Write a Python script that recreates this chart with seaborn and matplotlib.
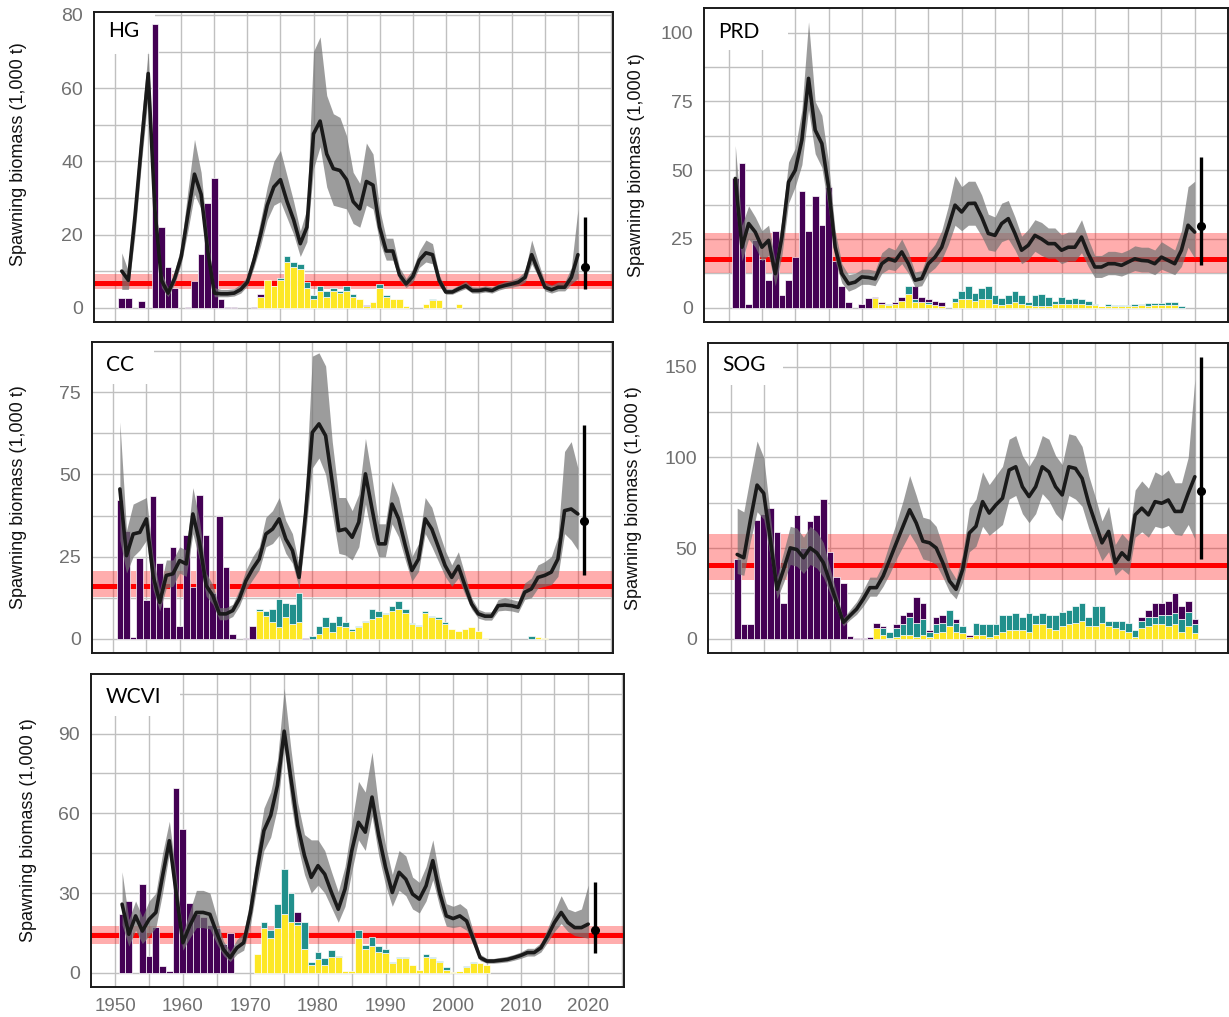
import numpy as np
import seaborn as sns
import matplotlib.pyplot as plt
from matplotlib.patches import Rectangle

years = np.arange(1951, 2021)
proj_year = 2021

# --- HG ---
hg_sb = [10, 7.5, 25, 45, 64, 27, 7.5, 4, 8, 14,
         25.5, 36.5, 31, 15.5, 4, 3.8, 3.8, 4, 5, 7,
         13, 20, 28, 33, 35, 29, 24, 17.5, 22, 47.5,
         51, 42, 38, 37.5, 35, 29, 27, 34.5, 33.5, 22,
         15.5, 15.5, 9, 6.5, 8.5, 13, 15, 14.5, 7.5, 4.3,
         4.3, 5.2, 6, 4.7, 4.7, 5, 4.7, 5.6, 6.1, 6.5,
         7, 8.3, 14.5, 10, 5.6, 4.9, 5.6, 5.6, 8.3, 14.5]
hg_lo = [5, 5, 20, 40, 58, 22, 5.5, 3, 6.5, 12,
         21, 31, 27, 13, 3, 3, 3, 3.2, 4, 6,
         11, 17, 24, 28, 29, 24.5, 20, 14, 18, 38,
         44, 33, 28, 27.5, 27, 23, 22, 28, 27, 18,
         13, 13, 7.5, 5.5, 7, 11, 12.5, 12, 6, 3.7,
         3.7, 4.5, 5.2, 4, 4, 4.3, 4, 4.8, 5.3, 5.6,
         6, 7, 12, 8.5, 4.6, 4, 4.6, 4.6, 6.5, 8]
hg_hi = [15, 10, 30, 52, 70, 32, 9.5, 5.5, 10, 17,
         32, 46, 37, 19, 5.5, 5, 5, 5.2, 6.5, 8.5,
         15.5, 24, 33, 40, 43, 36, 29, 21, 27, 70,
         74, 58, 53, 52, 47, 37, 34, 45, 42, 27,
         19, 19, 11, 8, 10.5, 15.5, 18.5, 17.5, 9, 5.2,
         5.2, 6.2, 7.2, 5.7, 5.6, 6, 5.7, 6.6, 7.2, 7.6,
         8.3, 10, 18.5, 12.5, 7, 6.2, 7, 7, 11, 27]
hg_purple = [2.6, 2.6, 0, 1.8, 0, 77.5, 22, 11, 5.5, 0,
             0.3, 7.3, 14.7, 28.7, 35.5, 2.4, 0.3, 0.3, 0, 0,
             0.3, 0.8, 0, 0, 0, 0, 0, 0, 0, 0,
             0, 0, 0, 0, 0, 0, 0, 0.3, 0, 0,
             0, 0, 0, 0, 0, 0, 0, 0, 0, 0,
             0, 0, 0, 0, 0, 0, 0, 0, 0, 0,
             0, 0, 0, 0, 0, 0, 0, 0, 0, 0]
hg_teal = [0, 0, 0, 0, 0, 0, 0, 0, 0, 0,
           0, 0, 0, 0, 0, 0, 0, 0, 0, 0,
           0, 0, 0, 0, 0.5, 1.5, 1.5, 1.5, 1.5, 1,
           1.5, 1.5, 0.8, 0.5, 1.3, 0.7, 0, 0, 0, 1,
           0.5, 0, 0, 0, 0, 0, 0, 0.5, 0, 0,
           0, 0, 0, 0, 0, 0, 0, 0, 0, 0,
           0, 0, 0, 0, 0, 0, 0, 0, 0, 0]
hg_yellow = [0, 0, 0, 0, 0, 0, 0, 0, 0, 0,
             0, 0, 0, 0, 0, 0, 0, 0, 0, 0,
             0, 3, 7.5, 6, 7.5, 12.5, 11, 10.5, 5.5, 2.5,
             4.5, 3, 4.5, 4, 4.5, 3, 2.5, 0.5, 1.5, 5.5,
             3, 2.5, 2.5, 0.5, 0, 0, 1, 2, 2, 0,
             0, 1, 0, 0, 0, 0, 0, 0, 0, 0,
             0, 0, 0, 0, 0, 0, 0, 0, 0, 0]
hg_lrp = [6.7, 5.0, 9.3]
hg_proj = [11.1, 5.2, 24.8]

# --- PRD ---
prd_sb = [47, 22, 30.6, 27.5, 22, 24.5, 12.4, 25.7, 45.7, 50,
          61, 83.4, 64.6, 59.7, 44, 22, 12.4, 8.7, 9.3, 11.2,
          11, 10.5, 16, 17.8, 17, 20.3, 16, 10, 10.6, 16,
          18.4, 22, 29.4, 37.3, 34.8, 37.9, 38, 33, 27, 26.3,
          30.6, 32.4, 27, 20.9, 22.7, 26.3, 25, 23.3, 23.3, 20.9,
          22, 22, 25.7, 19.7, 14.8, 14.8, 16, 16, 15.4, 16.6,
          17.8, 17.2, 17, 16, 18.4, 17.2, 16, 20.9, 30, 27.5]
prd_lo = [38, 17, 25, 22, 17, 19, 8, 19, 38, 44,
          52, 72, 56, 51, 36, 17, 9, 6, 7, 8.5,
          8.5, 8, 12.5, 14, 13.5, 16, 12.5, 7.5, 8, 12.5,
          14.5, 17.5, 23, 30, 28, 30, 30, 26, 21, 20.5,
          24, 25, 21, 16, 17.5, 20.5, 19, 18, 18, 16,
          17, 17, 20, 15, 11, 11, 12, 12, 11.5, 12.5,
          13.5, 13, 13, 12, 14, 13, 12, 15, 22, 18]
prd_hi = [59, 30, 37, 33, 28, 30, 17, 32, 53, 58,
          72, 104, 75, 70, 53, 28, 16, 12, 12.5, 14,
          14, 13.5, 20, 22, 21, 25, 20, 13, 13.5, 20,
          23, 28, 37, 48, 44, 46, 46, 41, 34, 33,
          38, 39, 33, 26, 28.5, 32, 31, 29, 29, 26.5,
          27.5, 27.5, 32, 25, 19, 19, 20.5, 20.5, 20, 21,
          22.5, 22, 22, 21, 24, 22.5, 21, 28, 44, 46]
prd_purple = [47, 52.5, 1.5, 24.5, 17.8, 10, 28, 4.5, 10, 18.5,
              42.5, 28, 40.5, 30, 44, 17, 8, 2, 0, 1.5,
              3.5, 0.5, 0.4, 0, 0.5, 1.5, 0, 5, 2, 1,
              1.5, 1.5, 0, 0, 0, 0, 0, 0, 0, 0,
              0, 0, 0, 0, 0, 0, 0, 0, 0, 0,
              0, 0, 0, 0, 0, 0, 0, 0, 0, 0,
              0, 0, 0, 0, 0, 0, 0, 0, 0, 0]
prd_teal = [0, 0, 0, 0, 0, 0, 0, 0, 0, 0,
            0, 0, 0, 0, 0, 0, 0, 0, 0, 0,
            0, 0, 0, 0.5, 0, 0, 3, 1, 0, 0.5,
            0, 0, 0, 1.5, 3, 5, 3, 4, 5, 3,
            2.5, 3, 4, 3, 1, 4, 4.5, 3.5, 1, 2.5,
            1.5, 2, 1.5, 1.5, 0.5, 0.3, 0.8, 0.5, 0.5, 0.5,
            0.5, 0.5, 0.8, 0.8, 0.8, 1, 1.2, 0.7, 0, 0]
prd_yellow = [0, 0, 0, 0, 0, 0, 0, 0, 0, 0,
              0, 0, 0, 0, 0, 0, 0, 0, 0, 0,
              0, 3.5, 1.5, 1, 1.5, 2.5, 5, 2, 2, 1.5,
              1, 0.5, 0, 2, 3, 3, 2.5, 3, 3, 1.5,
              1, 1.5, 2, 1.5, 1, 0.5, 0.5, 0.5, 1.5, 1.5,
              1.5, 1.5, 1.5, 1, 1, 0.5, 0.5, 0.5, 0.5, 0.5,
              0.8, 1, 0.8, 1, 1, 1, 1, 0, 0, 0]
prd_lrp = [17.6, 12.6, 27.2]
prd_proj = [29.6, 15.4, 54.9]

# --- CC ---
cc_sb = [45.6, 25.3, 31.9, 32.4, 36.5, 19.3, 11.1, 19.3, 19.8, 23.8,
         22.8, 38, 29.4, 16.2, 13.2, 7.6, 7.6, 8.6, 12.2, 17.7,
         21.3, 24.3, 31.9, 33.4, 36.5, 30.4, 26.9, 18.7, 38.5, 62.8,
         65.4, 61.8, 47.6, 32.9, 33.4, 30.9, 35.5, 50.2, 39.5, 28.9,
         28.9, 41, 36.5, 28.4, 20.8, 24.3, 36.5, 33.4, 27.9, 22.3,
         18.7, 22.1, 16.2, 10.6, 7.6, 6.9, 6.9, 10.1, 10.3, 10.1,
         9.6, 14.2, 15.2, 18.7, 19.3, 20.3, 24.3, 39, 39.5, 38]
cc_lo = [30, 20, 25, 27, 30, 15, 8.5, 15.5, 16, 20,
         19, 32, 24, 13, 10.5, 5.8, 5.8, 6.8, 10, 15,
         18, 21, 28, 29, 31.5, 26, 23, 15.5, 32, 52,
         55, 50, 38, 26, 25.5, 24, 28, 41, 31, 25,
         25, 35, 31, 24, 17.5, 20.5, 32, 28, 23.5, 19,
         16, 18.5, 13.5, 9, 6.3, 5.7, 5.7, 8.5, 8.7, 8.5,
         8, 12, 12.5, 15.5, 16, 16.5, 19, 32, 30, 27]
cc_hi = [66, 33, 41, 42, 43, 25, 15, 24, 24, 28,
         27, 46, 36, 20, 16.5, 9.5, 9.5, 10.5, 15, 21,
         25, 28, 37, 39, 43, 36, 32, 22.5, 46, 86,
         87, 83, 60, 43, 43, 39, 44, 61, 49, 35,
         35, 48, 43, 34, 25, 29, 43, 40, 33, 27,
         22.5, 26.5, 19.5, 12.5, 9, 8.2, 8.2, 12, 12.5, 12,
         11.5, 17, 18.5, 22.5, 23.5, 25, 31, 57, 60, 52]
cc_purple = [42.3, 32.9, 0.6, 24.5, 11.7, 43.6, 23.1, 9.8, 27.9, 3.9,
             31.7, 15.9, 43.9, 31.7, 14, 37.5, 21.9, 1.5, 0, 0.3,
             3.8, 0, 0, 0, 0, 0, 0, 0, 0.2, 0,
             0, 0, 0, 0, 0, 0, 0, 0, 0, 0,
             0, 0, 0, 0, 0, 0, 0, 0, 0, 0,
             0, 0, 0, 0, 0, 0, 0, 0, 0, 0,
             0, 0, 0, 0, 0, 0, 0, 0, 0, 0]
cc_teal = [0, 0, 0, 0, 0, 0, 0, 0, 0, 0,
           0, 0, 0, 0, 0, 0, 0, 0, 0, 0,
           0, 0.5, 1.5, 4, 8.5, 4.5, 6, 9, 0, 0.8,
           2.5, 3, 3, 3, 1.5, 0.5, 0.5, 0.5, 3, 2,
           0.5, 1.5, 2.5, 1, 0.3, 0.3, 0.5, 0.5, 0.5, 0.5,
           0, 0, 0, 0, 0, 0, 0, 0, 0, 0,
           0, 0, 1, 0, 0, 0, 0, 0, 0, 0]
cc_yellow = [0, 0, 0, 0, 0, 0, 0, 0, 0, 0,
             0, 0, 0, 0, 0, 0, 0, 0, 0, 0,
             0, 8.5, 7, 5, 3.5, 6.5, 4.5, 5, 0, 0,
             1.5, 3.5, 2, 4, 3.5, 2.5, 3.5, 5, 6, 6.5,
             7.5, 8.5, 9, 8, 4.5, 4, 8, 6.5, 6, 4.5,
             3, 2.5, 3, 3.5, 2.5, 0.3, 0, 0, 0, 0,
             0, 0, 0, 0.5, 0.2, 0, 0, 0, 0, 0]
cc_lrp = [16.0, 12.7, 20.5]
cc_proj = [35.7, 19.3, 65.0]

# --- SOG ---
sog_sb = [46.5, 44.7, 65.6, 84.7, 80.2, 54.7, 27.3, 38.3, 50.1, 49.2,
          44.7, 50.1, 47.4, 41.9, 31, 20, 9.1, 12.8, 16.4, 21.9,
          28.2, 28.2, 34.6, 43.7, 52.9, 62, 71.1, 63.8, 53.8, 52.9,
          50.1, 41.9, 31.9, 27.3, 38.3, 58.3, 62, 75.6, 69.3, 73.8,
          77.5, 93, 94.8, 83.8, 78.4, 83.8, 94.8, 92, 83.8, 79.3,
          94.8, 93.9, 88.4, 74.7, 63.8, 52.9, 59.2, 41.9, 47.4, 43.7,
          68.3, 72, 68.3, 75.6, 74.7, 76.5, 70.2, 70.2, 80.2, 89.3]
sog_lo = [36, 35, 54, 70, 66, 45, 22, 31, 41, 40,
          36, 41, 39, 34, 25, 16, 7, 10.5, 13.5, 18,
          23.5, 23.5, 29, 36, 44, 51, 58, 52, 44, 43,
          41, 34, 26, 22, 31.5, 48, 51, 62, 57, 60,
          63, 77, 79, 69, 64, 69, 80, 76, 69, 65,
          79, 77, 73, 61, 52, 43, 48, 35, 38.5, 35.5,
          56, 59, 56, 62, 61, 62.5, 57.5, 57, 63, 55]
sog_hi = [72, 70, 90, 109, 100, 68, 34, 48, 62, 61,
          56, 62, 59, 53, 39, 25, 11.5, 16, 20.5, 27,
          34, 34, 41.5, 53, 64, 76, 90, 79, 67, 66,
          62, 51, 39, 33, 47, 72, 77, 92, 85, 90,
          95, 110, 112, 101, 95, 101, 112, 110, 101, 96,
          113, 112, 106, 90, 78, 65, 73, 52, 58, 54,
          82, 87, 83, 92, 90, 93, 86, 86, 100, 143]
sog_purple = [43.8, 8.2, 8.2, 65.7, 68.8, 72, 59, 20, 50, 68,
              50, 65, 68.4, 77, 48, 33.8, 31, 1.8, 0.4, 0.4,
              1, 3, 1, 0, 2, 5, 3, 14, 9, 1,
              4, 4, 0, 2, 0, 1, 0, 0, 0, 0,
              0, 0, 0, 0, 0, 0, 0, 0, 0, 0,
              0, 0, 0, 0, 0, 0, 0, 0, 0, 0,
              0, 2, 4, 8, 7, 8, 11, 7, 6, 3]
sog_teal = [0, 0, 0, 0, 0, 0, 0, 0, 0, 0,
            0, 0, 0, 0, 0, 0, 0, 0, 0, 0,
            0, 0, 4, 3.5, 5, 6, 10, 8, 9, 3,
            5, 5, 9, 5, 4, 0, 7, 6, 7, 6,
            9, 8, 9, 7, 10, 5, 6, 7, 8, 8,
            8, 9, 10, 5, 11, 9, 3, 4, 5, 4.5,
            4, 4, 5, 4, 5, 6, 6, 7, 8, 5]
sog_yellow = [0, 0, 0, 0, 0, 0, 0, 0, 0, 0,
              0, 0, 0, 0, 0, 0, 0, 0, 0, 0,
              0, 6, 2, 0.5, 1, 2, 2, 1, 2, 1,
              3, 4, 7, 4, 3, 1, 2, 2, 1, 2,
              4, 5, 5, 5, 4, 8, 8, 6, 5, 7,
              8, 9, 10, 7, 7, 9, 7, 6, 5, 4,
              1, 6, 7, 8, 8, 7, 8, 4, 7, 3]
sog_lrp = [40.8, 32.4, 58.0]
sog_proj = [81.5, 44.1, 155.5]

# --- WCVI ---
wcvi_sb = [25.8, 14.5, 21.4, 15.7, 20.1, 22.7, 36.5, 49.7, 30.2, 11.3,
           17.6, 22.7, 22.7, 22, 15.1, 8.8, 5.7, 9.4, 11.3, 22.7,
           39, 53.5, 59.2, 70.5, 90.9, 73, 55.4, 44.1, 35.9, 40.3,
           37.1, 30.2, 23.9, 31.5, 45.9, 56.6, 52.9, 66.1, 51.6, 39.7,
           30.2, 37.8, 35.2, 29.6, 27.7, 32.7, 42.2, 30.2, 21.4, 20.4,
           21.4, 19.5, 12.6, 5.7, 4.4, 4.4, 4.7, 5, 5.7, 6.5,
           7.6, 7.6, 9.4, 13.8, 18.9, 22.7, 18.9, 17, 17, 18.3]
wcvi_lo = [18, 10, 16, 11, 14, 17, 30, 45, 25, 8.5,
           13, 17, 17, 16.5, 11, 6.5, 4.2, 7, 8.5, 18,
           33, 46, 51, 62, 85, 64, 48, 37, 30, 33,
           30, 24.5, 19, 25, 38, 50, 46, 59, 44, 33,
           25, 31, 29, 24, 22.5, 27, 35, 25, 17.5, 17,
           17.5, 16, 10.5, 4.6, 3.6, 3.6, 3.8, 4.1, 4.7, 5.4,
           6.3, 6.3, 7.8, 11.5, 15.5, 18.5, 15.5, 14, 13.5, 13]
wcvi_hi = [38, 20, 27, 21, 27, 30, 45, 57, 37, 15,
           23, 31, 31, 30, 21, 12, 8, 12.5, 15, 28,
           46, 62, 68, 80, 107, 84, 64, 52, 50, 50,
           46, 38, 30.5, 40, 56, 72, 68, 83, 62, 48,
           37, 46, 44, 36, 34, 40, 50, 36, 26, 25,
           26, 24, 15.5, 7, 5.4, 5.4, 5.8, 6.2, 6.9, 7.8,
           9.2, 9.2, 11.3, 16.8, 23, 29, 24, 23, 24, 33]
wcvi_purple = [22, 27, 0, 33.3, 6.3, 17.2, 2.5, 0.5, 69.5, 54,
               26.4, 22, 21, 18, 17, 11, 15, 0, 0, 0,
               0, 0, 0, 0, 0, 0, 4, 0, 0, 0,
               0, 0, 0, 0, 0, 0, 0, 0, 0, 0,
               0, 0, 0, 0, 0, 0, 0, 0, 0, 0,
               0, 0, 0, 0, 0, 0, 0, 0, 0, 0,
               0, 0, 0, 0, 0, 0, 0, 0, 0, 0]
wcvi_teal = [0, 0, 0, 0, 0, 0, 0, 0, 0, 0,
             0, 0, 0, 0, 0, 0, 0, 0, 0, 0,
             0, 2, 3, 9, 17, 11, 1, 10, 1, 3,
             2.5, 2.5, 0.5, 0, 0, 3, 1.5, 3.5, 2, 1.5,
             0.5, 0.5, 0.5, 0, 0, 1, 0.5, 0.5, 1, 0,
             0.3, 0.5, 0.5, 0, 0, 0, 0, 0, 0, 0,
             0, 0, 0, 0, 0, 0, 0, 0, 0, 0]
wcvi_yellow = [0, 0, 0, 0, 0, 0, 0, 0, 0, 0,
               0, 0, 0, 0, 0, 0, 0, 0, 0, 0,
               7, 17, 13, 17, 22, 19, 18, 9, 3, 5,
               3, 6, 6, 0.5, 0.5, 13, 9, 10, 8, 7.5,
               3.5, 5.5, 5.5, 3, 1, 6, 5.5, 4, 1, 0.3,
               0.5, 2, 3.5, 3.5, 3, 0, 0, 0, 0, 0,
               0, 0, 0, 0, 0, 0, 0, 0, 0, 0]
wcvi_lrp = [14.1, 10.7, 17.6]
wcvi_proj = [16.1, 7.6, 34.0]

gear_colors = {"purple": "#440154", "teal": "#21908C", "yellow": "#FDE725"}

sns.set_theme(style="whitegrid")
plt.rcParams['font.family'] = ['Liberation Sans', 'DejaVu Sans']

W, H = 1229, 1017
fig = plt.figure(figsize=(W / 100, H / 100), dpi=100)


def add_axes(l, t, r, b):
    return fig.add_axes([l / W, 1 - b / H, (r - l) / W, (b - t) / H])


# name, data, axes box in px, xlim, ylim, yticks, label box width, label y, ylabel coords
panels = [
    ("HG", hg_sb, hg_lo, hg_hi, hg_purple, hg_teal, hg_yellow, hg_lrp, hg_proj,
     (94, 12, 613, 322), (1946.8, 2025.3), (-3.9, 80.8), [0, 20, 40, 60, 80], 0.118, 0.939, -0.129, 0.54),
    ("PRD", prd_sb, prd_lo, prd_hi, prd_purple, prd_teal, prd_yellow, prd_lrp, prd_proj,
     (704, 8, 1228, 322), (1946.3, 2024.4), (-5.2, 109), [0, 25, 50, 75, 100], 0.16, 0.924, -0.113, 0.5),
    ("CC", cc_sb, cc_lo, cc_hi, cc_purple, cc_teal, cc_yellow, cc_lrp, cc_proj,
     (92, 342, 613, 653), (1946.8, 2025.3), (-4.3, 90.3), [0, 25, 50, 75], 0.119, 0.926, -0.125, 0.5),
    ("SOG", sog_sb, sog_lo, sog_hi, sog_purple, sog_teal, sog_yellow, sog_lrp, sog_proj,
     (708, 343, 1228, 653), (1946.6, 2024.7), (-7.8, 163), [0, 50, 100, 150], 0.144, 0.929, -0.127, 0.5),
    ("WCVI", wcvi_sb, wcvi_lo, wcvi_hi, wcvi_purple, wcvi_teal, wcvi_yellow, wcvi_lrp, wcvi_proj,
     (91, 674, 624, 987), (1946.4, 2025.3), (-5.35, 112.4), [0, 30, 60, 90], 0.167, 0.927, -0.101, 0.5),
]

for (name, sb, lo, hi, purple, teal, yellow, lrp, proj,
     box, xlim, ylim, yticks, bw, ty, ylx, yly) in panels:
    ax = add_axes(*box)
    ax.set_facecolor("white")
    ax.set_axisbelow(True)

    # limit reference point band and median
    ax.axhspan(lrp[1], lrp[2], color="#FF0000", alpha=0.32, lw=0, zorder=1)
    ax.axhline(lrp[0], color="#FF0000", lw=3.6, zorder=2)

    # catch bars, stacked yellow / teal / purple
    bottom = np.zeros(len(years))
    for vals, key in [(yellow, "yellow"), (teal, "teal"), (purple, "purple")]:
        v = np.array(vals, dtype=float)
        m = v > 0
        ax.bar(years[m], v[m], bottom=bottom[m], width=1.0, color=gear_colors[key],
               edgecolor="white", linewidth=0.5, zorder=3)
        bottom = bottom + v

    # spawning biomass ribbon and median
    ax.fill_between(years, lo, hi, color="#737373", alpha=0.7, lw=0, zorder=4)
    sns.lineplot(x=years, y=sb, ax=ax, color="#1a1a1a", lw=2.6, zorder=5)

    # projection
    ax.errorbar([proj_year], [proj[0]], yerr=[[proj[0] - proj[1]], [proj[2] - proj[0]]],
                fmt="o", color="black", ms=5.5, elinewidth=2.4, capsize=0, zorder=6)

    ax.set_xlim(*xlim)
    ax.set_ylim(*ylim)
    ax.set_xticks(range(1950, 2021, 10))
    ax.set_xticks(range(1955, 2026, 10), minor=True)
    ax.set_yticks(yticks)
    step = yticks[1] - yticks[0]
    ax.set_yticks([t + step / 2 for t in yticks if t + step / 2 < ylim[1]], minor=True)
    ax.grid(which="both", color="#c0c0c0", lw=1.0)
    ax.tick_params(which="major", direction="out", length=5, width=1.1,
                   color="#333333", labelcolor="#707070", labelsize=14, pad=3)
    ax.tick_params(which="minor", length=0)
    ax.tick_params(axis="x", labelsize=13.5)
    if name != "WCVI":
        ax.tick_params(axis="x", labelbottom=False)
    for sp in ax.spines.values():
        sp.set_color("#1a1a1a")
        sp.set_linewidth(1.4)

    ax.set_xlabel("")
    ax.set_ylabel("Spawning biomass (1,000 t)", fontsize=13, color="#111111")
    ax.yaxis.set_label_coords(ylx, yly)

    # panel label on a white box
    ax.add_patch(Rectangle((0, 0.865), bw, 0.135, transform=ax.transAxes,
                           facecolor="white", edgecolor="none", zorder=0.8))
    ax.text(0.027, ty, name, transform=ax.transAxes, fontsize=15,
            family=["Lato", "DejaVu Sans"], color="black", va="center", ha="left", zorder=7)

fig.savefig("out.png", dpi=100, facecolor="white")
